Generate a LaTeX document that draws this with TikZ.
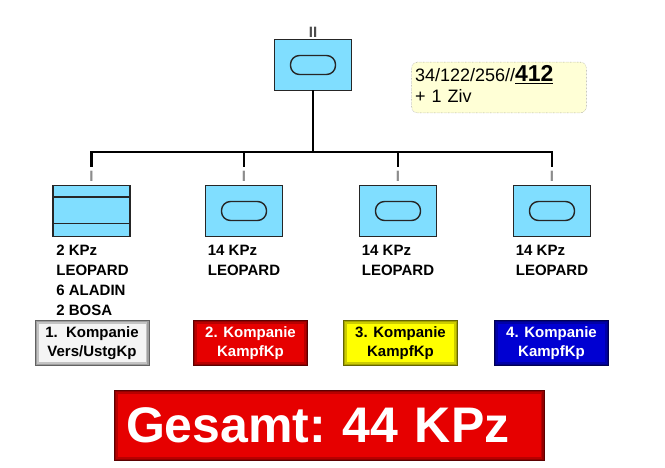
\documentclass[tikz,border=0pt]{standalone}
\usepackage{fontspec}
\setmainfont{Liberation Sans}
\usepackage{xcolor}
\usetikzlibrary{positioning,calc}
\definecolor{unitblue}{HTML}{80DEFF}
\definecolor{infoyellow}{HTML}{FFFFD6}
\definecolor{kpgrey}{HTML}{F4F4F4}
\definecolor{kpred}{HTML}{E60000}
\definecolor{kpyellow}{HTML}{FFFF00}
\definecolor{kpblue}{HTML}{0000D2}
\tikzset{
    unit/.style={draw=black!85, line width=1.6pt, fill=unitblue, minimum width=77pt, minimum height=51pt, inner sep=0pt},
    oval/.style={draw=black!85, line width=1.4pt, rounded corners=9pt, minimum width=45pt, minimum height=19pt, inner sep=0pt},
    echelon/.style={font=\bfseries\fontsize{15}{15}\selectfont, inner sep=0pt},
    strength/.style={anchor=north west, align=left, inner sep=0pt, font=\bfseries\fontsize{15}{19.7}\selectfont},
    bevel/.style={path picture={
        \draw[#1!80!black, line width=7pt] (path picture bounding box.south west) rectangle (path picture bounding box.north east);
        \draw[#1!65!black, line width=3.5pt] (path picture bounding box.south west) rectangle (path picture bounding box.north east);}},
    kompanie/.style={draw=#1!40!black, line width=0.8pt, fill=#1, bevel=#1, minimum width=114pt, minimum height=45pt, inner sep=0pt, align=center, font=\bfseries\fontsize{15}{19}\selectfont},
    info/.style={draw=black!50, densely dotted, rounded corners=6pt, fill=infoyellow, minimum width=172pt, minimum height=45pt, text width=168pt, align=left, font=\fontsize{18}{21}\selectfont},
    gesamt/.style={draw=kpred!40!black, line width=0.8pt, fill=kpred, bevel=kpred, text=white, text width=406pt, inner xsep=12pt, align=left, minimum height=70pt, font=\bfseries\fontsize{50}{50}\selectfont\frenchspacing},
    tree/.style={draw=black, line width=2.6pt, line cap=rect},
}
\begin{document}
\begin{tikzpicture}[x=1pt, y=-1pt]
	\useasboundingbox (0,0) rectangle (665,467);
	% Abteilung
	\node[unit] (top) at (313,65) {};
	\node[oval] (topoval) at (top) {};
	\node[echelon, text=black!70] (topech) at (313,32.5) {II};
	\node[info] (sum) at (499,87.5) {34/122/256//\underline{\bfseries\fontsize{23}{21}\selectfont 412}\\+ 1 Ziv\rule[-7pt]{0pt}{7pt}};
	% Kompanien
	\node[unit] (u1) at (91.5,211) {};
	\node[unit] (u2) at (244,211) {};
	\node[unit] (u3) at (398,211) {};
	\node[unit] (u4) at (552,211) {};
	\draw[black!85, line width=1.6pt] ($(u1.north west)+(0,12)$) -- ($(u1.north east)+(0,12)$);
	\draw[black!85, line width=1.6pt] ($(u1.south west)+(0,-14)$) -- ($(u1.south east)+(0,-14)$);
	\node[oval] (o2) at (u2) {};
	\node[oval] (o3) at (u3) {};
	\node[oval] (o4) at (u4) {};
	\foreach \i in {1,...,4}
		\node[echelon, text=black!45] (t\i) at ($(u\i.north)+(0,-8)$) {I};
	% Linien
	\coordinate (bar) at (0,152);
	\draw[tree] (top.south) -- (top.south |- bar);
	\draw[tree] (u1 |- bar) -- (u4 |- bar);
	\foreach \i in {1,...,4}
		\draw[tree] (u\i |- bar) -- ($(t\i.north)+(0,-6)$);
	% Stärke
	\node[strength] (s1) at ($(u1.south west)+(4,8)$) {2 KPz\\LEOPARD\\6 ALADIN\\2 BOSA};
	\node[strength] (s2) at ($(u2.south west)+(3,8)$) {14 KPz\\LEOPARD};
	\node[strength] (s3) at ($(u3.south west)+(3,8)$) {14 KPz\\LEOPARD};
	\node[strength] (s4) at ($(u4.south west)+(3,8)$) {14 KPz\\LEOPARD};
	% Kompaniebezeichnung
	\node[kompanie=kpgrey] (k1) at (92,343) {1.\ \ Kompanie\\Vers/UstgKp};
	\node[kompanie=kpred, text=white] (k2) at (250.5,343) {2. Kompanie\\KampfKp};
	\node[kompanie=kpyellow] (k3) at (400.5,343) {3. Kompanie\\KampfKp};
	\node[kompanie=kpblue, text=white] (k4) at (551.5,343) {4. Kompanie\\KampfKp};
	\node[gesamt] (total) at (329,425.5) {Gesamt: 44 KPz};
\end{tikzpicture}
\end{document}
